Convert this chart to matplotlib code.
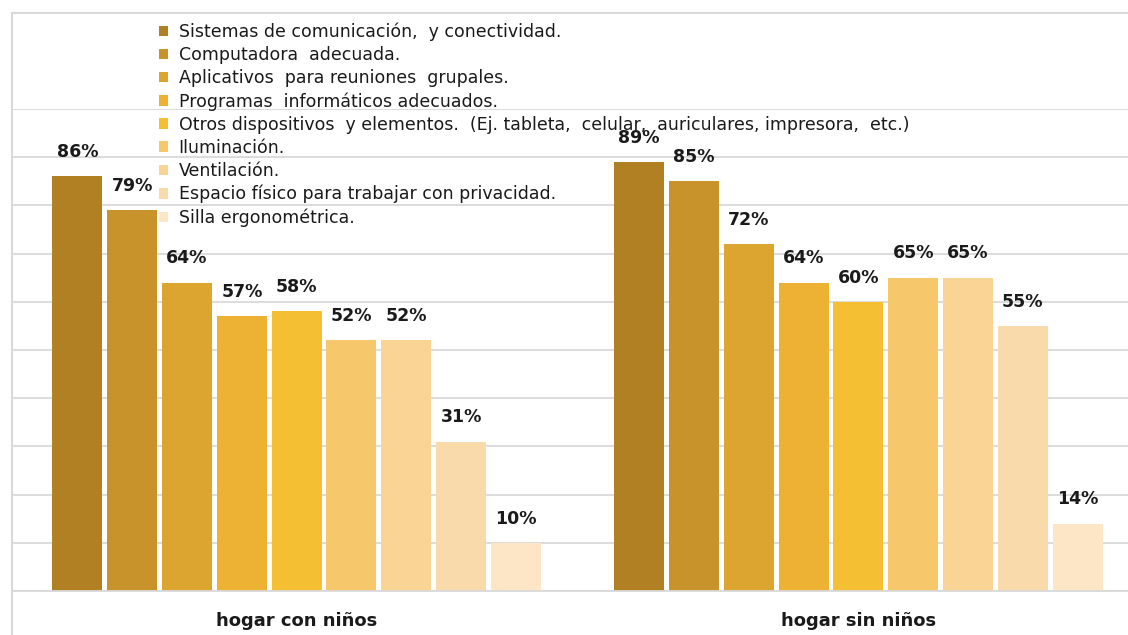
import numpy as np
import matplotlib
matplotlib.use("Agg")
import matplotlib.pyplot as plt
from matplotlib.lines import Line2D

plt.rcParams["font.family"] = ["DejaVu Sans"]

# ---- data ----
groups = ["hogar con niños", "hogar sin niños"]
items = [
    "Sistemas de comunicación,  y conectividad.",
    "Computadora  adecuada.",
    "Aplicativos  para reuniones  grupales.",
    "Programas  informáticos adecuados.",
    "Otros dispositivos  y elementos.  (Ej. tableta,  celular,  auriculares, impresora,  etc.)",
    "Iluminación.",
    "Ventilación.",
    "Espacio físico para trabajar con privacidad.",
    "Silla ergonométrica.",
]
con_ninos = [86, 79, 64, 57, 58, 52, 52, 31, 10]
sin_ninos = [89, 85, 72, 64, 60, 65, 65, 55, 14]
colors = ["#B08022", "#C8932A", "#DBA52F", "#EDB234", "#F5BF33",
          "#F7C76B", "#F9D494", "#F9DAAA", "#FCE6C5"]

GRID = "#D9D9D9"
INK = "#1a1a1a"

fig = plt.figure(figsize=(11.28, 6.35), dpi=100)
ax = fig.add_axes([13 / 1128, 44 / 635, 1115 / 1128, 482 / 635])

x = np.arange(len(groups))
slot = 54.8 / 561.7
bw = 50 / 561.7
vals = np.array([con_ninos, sin_ninos])  # shape (groups, items)

handles = []
for i, (lab, col) in enumerate(zip(items, colors)):
    pos = x + (i - 4) * slot
    b = ax.bar(pos, vals[:, i], width=bw, color=col, label=lab, zorder=2)
    handles.append(b)
    for p, v in zip(pos, vals[:, i]):
        ax.annotate(f"{v}%", (p, v), xytext=(0, 11), textcoords="offset points",
                    ha="center", va="bottom", fontsize=12.5, fontweight="bold",
                    color=INK, zorder=3)

ax.set_xlim(-0.505, 1.480)
ax.set_ylim(0, 100)
ax.set_yticks(np.arange(0, 101, 10))
ax.yaxis.grid(True, color=GRID, lw=1.3, zorder=0)
ax.set_axisbelow(True)
ax.tick_params(axis="y", left=False, labelleft=False)
ax.tick_params(axis="x", length=0, pad=15)
ax.set_xticks(x)
ax.set_xticklabels(groups, fontsize=13, fontweight="bold", color=INK)
for s in ["top", "right", "left"]:
    ax.spines[s].set_visible(False)
ax.spines["bottom"].set_color(GRID)
ax.spines["bottom"].set_linewidth(1.3)

# chart-area border (cropped: only top and left visible)
fig.add_artist(Line2D([12 / 1128, 12 / 1128], [0, 1 - 13 / 635], color=GRID, lw=1.5))
fig.add_artist(Line2D([12 / 1128, 1], [1 - 13 / 635, 1 - 13 / 635], color=GRID, lw=1.5))

fig.legend(handles=handles, loc="upper left", bbox_to_anchor=(150 / 1128, 1 - 14 / 635),
           frameon=False, fontsize=12.5, handlelength=0.55, handleheight=0.55,
           handletextpad=0.6, labelspacing=0.29, borderpad=0, labelcolor=INK)

fig.savefig("out.png", dpi=100)
